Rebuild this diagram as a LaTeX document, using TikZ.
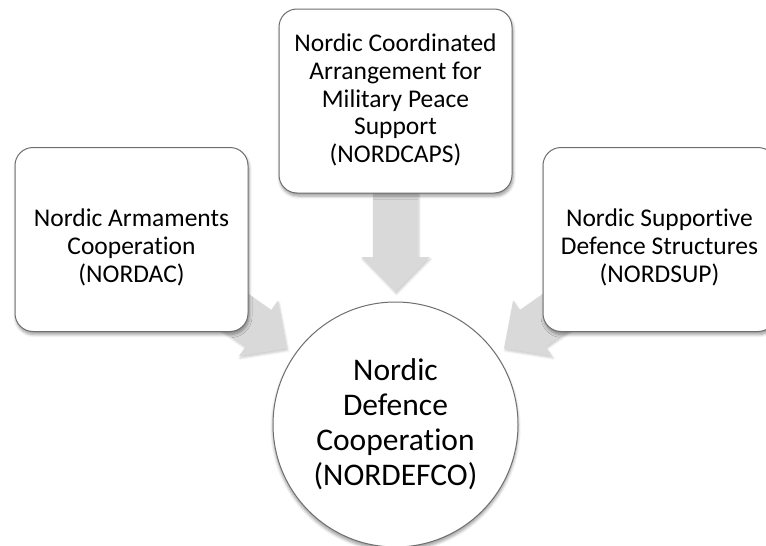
\documentclass[tikz,border=0pt]{standalone}
\usepackage{fontspec}
\setmainfont[Ligatures={NoCommon,NoContextual}]{Carlito}
\usetikzlibrary{calc,shadows.blur}
\definecolor{boxline}{RGB}{110,110,110}
\definecolor{arrowfill}{RGB}{217,217,217}
\tikzset{
  boxshape/.style={draw=boxline, line width=1pt, fill=white, rounded corners=18pt,
    minimum width=233pt, minimum height=184pt, inner sep=0pt,
    blur shadow={shadow xshift=1pt, shadow yshift=-3pt, shadow blur radius=3pt, shadow blur steps=6, shadow opacity=40}},
  boxtext/.style={align=center, font=\fontsize{25.5}{27.8}\selectfont, inner sep=0pt},
  circshape/.style={circle, draw=boxline, line width=1pt, fill=white, minimum size=245pt, inner sep=0pt,
    blur shadow={shadow xshift=0pt, shadow yshift=-3pt, shadow blur radius=3pt, shadow blur steps=6, shadow opacity=40}},
  circtext/.style={align=center, font=\fontsize{31.5}{35}\selectfont, inner sep=0pt},
  arrowshape/.style={fill=arrowfill, draw=none,
    blur shadow={shadow xshift=1pt, shadow yshift=-2pt, shadow blur radius=2pt, shadow blur steps=4, shadow opacity=20}}
}
\newcommand\blockarrow[2]{%
  \coordinate (tip#1) at ($(#2.center)!132.5pt!(#1.center)$);
  \coordinate (hb#1) at ($(#2.center)!167.5pt!(#1.center)$);
  \coordinate (se#1) at ($(#2.center)!240pt!(#1.center)$);
  \path[arrowshape] (tip#1)
    -- ($(hb#1)!34pt!90:(tip#1)$)
    -- ($(hb#1)!22.5pt!90:(tip#1)$)
    -- ($(se#1)!22.5pt!90:(hb#1)$)
    -- ($(se#1)!22.5pt!-90:(hb#1)$)
    -- ($(hb#1)!22.5pt!-90:(tip#1)$)
    -- ($(hb#1)!34pt!-90:(tip#1)$)
    -- cycle;
}
\begin{document}
\begin{tikzpicture}[x=1pt,y=-1pt]
\useasboundingbox (0,0) rectangle (766,546);
\clip (0,0) rectangle (766,546);
% invisible anchors for positions
\coordinate (cpos) at (395.5,424.5);
\node[minimum size=245pt, circle, inner sep=0pt] (hub) at (cpos) {};
\path (131.5,239.5) coordinate (lpos) (395.5,101) coordinate (tpos) (659.5,239.5) coordinate (rpos);
\node[minimum width=233pt, minimum height=184pt] (boxL) at (lpos) {};
\node[minimum width=233pt, minimum height=184pt] (boxT) at (tpos) {};
\node[minimum width=233pt, minimum height=184pt] (boxR) at (rpos) {};
% arrows
\blockarrow{boxL}{hub}
\blockarrow{boxT}{hub}
\blockarrow{boxR}{hub}
% boxes
\node[boxshape] (bL) at (boxL) {};
\node[boxshape] (bT) at (boxT) {};
\node[boxshape] (bR) at (boxR) {};
\node[boxtext] (tL) at ($(bL.center)+(0,8)$) {Nordic Armaments\\Cooperation\\(NORDAC)};
\node[boxtext] (tT) at ($(bT.center)+(0,-1)$) {Nordic Coordinated\\Arrangement for\\Military Peace\\Support\\(NORDCAPS)};
\node[boxtext] (tR) at ($(bR.center)+(0,8)$) {Nordic Supportive\\Defence Structures\\(NORDSUP)};
% hub
\node[circshape] (c) at (cpos) {};
\node[circtext] (tc) at ($(c.center)+(0,0)$) {Nordic\\Defence\\Cooperation\\(NORDEFCO)};
\end{tikzpicture}
\end{document}
